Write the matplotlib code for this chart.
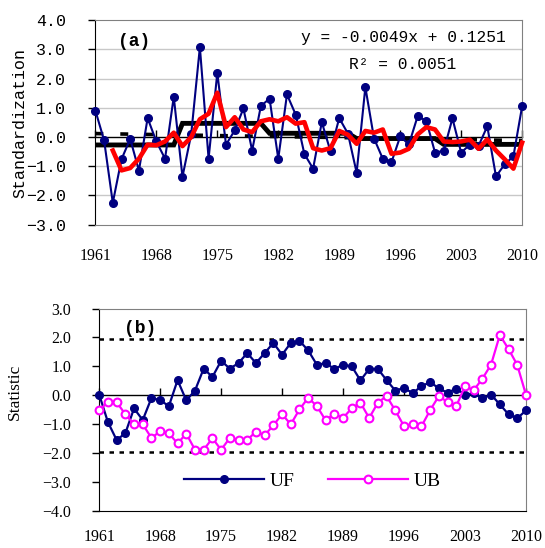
import matplotlib
matplotlib.use("Agg")
import matplotlib.pyplot as plt
import numpy as np

years = np.arange(1961, 2011)
tick_years = [1961, 1968, 1975, 1982, 1989, 1996, 2003, 2010]

# (a) standardized series
std_index = [0.91, -0.11, -2.25, -0.76, -0.06, -1.15, 0.65, -0.15, -0.74, 1.38,
             -1.36, 0.09, 3.08, -0.74, 2.20, -0.26, 0.23, 0.98, -0.46, 1.06,
             1.32, -0.74, 1.46, 0.77, -0.58, -1.08, 0.51, -0.49, 0.65, 0.12,
             -1.22, 1.71, -0.05, -0.74, -0.86, 0.02, -0.25, 0.71, 0.56, -0.53,
             -0.47, 0.64, -0.53, -0.26, -0.30, 0.37, -1.35, -0.93, -0.66, 1.05]
smooth_years = np.arange(1963, 2011)
smooth = [-0.46, -1.14, -1.06, -0.74, -0.26, -0.28, -0.15, 0.15,
          -0.31, 0.00, 0.61, 0.80, 1.52, 0.34, 0.68, 0.26, 0.17, 0.54,
          0.61, 0.54, 0.68, 0.46, 0.51, -0.38, -0.46, -0.38, 0.21, 0.08,
          -0.23, 0.21, 0.15, 0.26, -0.57, -0.53, -0.40, 0.09, 0.34, 0.26,
          -0.15, -0.17, -0.15, -0.09, -0.40, -0.08, -0.46, -0.76, -1.08, -0.19]
decade_means = [-0.27, 0.47, 0.13, -0.05, -0.25]
slope, intercept = -0.0049, 0.1251
r2 = 0.0051

# (b) Mann-Kendall statistics
uf = [0.02, -0.93, -1.55, -1.32, -0.46, -0.86, -0.10, -0.17, -0.38, 0.52,
      -0.18, 0.16, 0.92, 0.63, 1.19, 0.92, 1.11, 1.46, 1.11, 1.46,
      1.81, 1.40, 1.81, 1.88, 1.55, 1.05, 1.11, 0.91, 1.05, 1.00,
      0.51, 0.91, 0.91, 0.52, 0.16, 0.25, 0.07, 0.31, 0.45, 0.24,
      0.08, 0.23, 0.02, 0.06, -0.11, 0.02, -0.32, -0.66, -0.80, -0.53]
ub = [-0.52, -0.24, -0.24, -0.66, -1.01, -1.01, -1.48, -1.25, -1.32, -1.67,
      -1.33, -1.89, -1.89, -1.49, -1.89, -1.48, -1.55, -1.55, -1.26, -1.39,
      -1.04, -0.66, -1.01, -0.49, -0.09, -0.38, -0.87, -0.64, -0.79, -0.45,
      -0.26, -0.79, -0.26, -0.03, -0.53, -1.07, -1.00, -1.08, -0.52, -0.03,
      -0.24, -0.38, 0.31, 0.17, 0.57, 1.06, 2.08, 1.60, 1.05, 0.02]
crit = 1.96

MONO = "Liberation Mono"
SERIF = "Liberation Serif"
NAVY = "#000080"

fig = plt.figure(figsize=(5.45, 5.48), dpi=100)
ax1 = fig.add_axes([0.175, 0.590, 0.783, 0.373])
ax2 = fig.add_axes([0.182, 0.068, 0.783, 0.369])


def frame(ax, ymin, ymax, bottom_color, tick_font, ysize, ypad, xpad):
    ax.set_xlim(1961, 2010)
    ax.set_ylim(ymin, ymax)
    for s in ["top", "right"]:
        ax.spines[s].set_color("#808080")
    ax.spines["bottom"].set_color(bottom_color)
    ax.spines["left"].set_color("black")
    ax.set_yticks(np.arange(ymin, ymax + 1))
    ax.set_yticklabels([f"{v:.1f}".replace("-", "\u2212") for v in np.arange(ymin, ymax + 1)],
                       family=tick_font, fontsize=ysize)
    ax.set_xticks(tick_years)
    ax.set_xticklabels([str(y) for y in tick_years], family=SERIF, fontsize=11.5)
    ax.tick_params(axis="y", direction="out", length=5, width=1, pad=ypad)
    ax.tick_params(axis="x", length=0, pad=xpad)
    # axis crossing at zero with upward ticks
    sec = ax.secondary_xaxis((0 - ymin) / (ymax - ymin))
    sec.set_alignment("bottom")
    sec.set_xticks(tick_years)
    sec.tick_params(direction="in", length=5, width=1, labelbottom=False, labeltop=False)
    sec.spines["bottom"].set_color("black")
    sec.spines["bottom"].set_linewidth(1)


# ---- panel (a)
frame(ax1, -3, 4, "#808080", MONO, 12, 16, 17)
for g in [-2, -1, 1, 2, 3]:
    ax1.axhline(g, color="#c8c8c8", lw=1, zorder=0)

ax1.plot(years, intercept + slope * np.arange(1, len(years) + 1), color="black",
         lw=2.6, ls=(0, (2.2, 4.7)), zorder=2)
ax1.plot(years, np.repeat(decade_means, 10), color="black", lw=3.5, zorder=2,
         solid_joinstyle="miter")
ax1.plot(years, std_index, color=NAVY, lw=1.5, marker="o", ms=5.5, zorder=3, clip_on=False)
ax1.plot(smooth_years, smooth, color="#ff0000", lw=3.3, zorder=4, clip_on=False)

ax1.set_ylabel("Standardization", family=MONO, fontsize=12)
ax1.yaxis.set_label_coords(-0.16, 0.496)
ax1.text(0.052, 0.895, "(a)", transform=ax1.transAxes, family=MONO, fontsize=13,
         fontweight="bold", va="center", ha="left")
ax1.text(0.721, 0.917, f"y = {slope}x + {intercept}", transform=ax1.transAxes,
         family=MONO, fontsize=11.7, ha="center", va="center")
ax1.text(0.721, 0.785, f"R\u00b2 = {r2}", transform=ax1.transAxes,
         family=MONO, fontsize=11.7, ha="center", va="center")

# ---- panel (b)
frame(ax2, -4, 3, "black", SERIF, 11.5, 15, 13)
for yy in [crit, -crit]:
    ax2.axhline(yy, color="black", lw=1.8, ls=(0, (1.8, 2.2)), zorder=1)
ax2.plot(years, uf, color=NAVY, lw=1.6, marker="o", ms=5.5, zorder=3, clip_on=False,
         label="UF")
ax2.plot(years, ub, color="#ff00ff", lw=1.6, marker="o", ms=5.6, mfc="white",
         mec="#ff00ff", mew=1.5, zorder=3, clip_on=False, label="UB")
ax2.set_ylabel("Statistic", family=SERIF, fontsize=12.5)
ax2.yaxis.set_label_coords(-0.178, 0.59)
ax2.text(0.058, 0.9, "(b)", transform=ax2.transAxes, family=MONO, fontsize=13,
         fontweight="bold", va="center", ha="left")
ax2.legend(loc="center", bbox_to_anchor=(0.5, 0.147), ncol=2, frameon=False,
           prop={"family": SERIF, "size": 14}, handlelength=4.1, handletextpad=0.3,
           columnspacing=1.75, numpoints=1)

fig.savefig("out.png", dpi=100)
